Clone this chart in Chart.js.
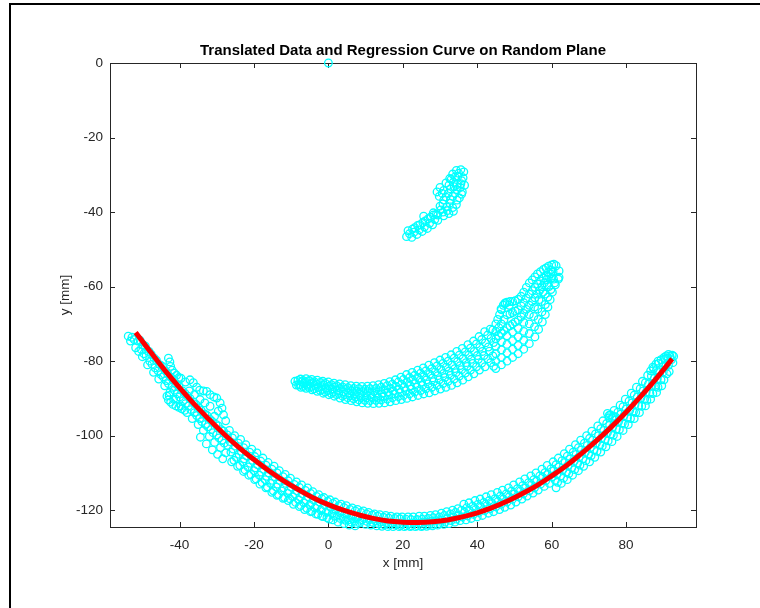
<!DOCTYPE html>
<html>
<head>
<meta charset="utf-8">
<title>Translated Data and Regression Curve on Random Plane</title>
<script src="https://cdn.jsdelivr.net/npm/chart.js@4"></script>
<style>
    body { margin: 0; background: #fff; }
    #wrap { position: relative; width: 760px; height: 608px; overflow: hidden; }
    #frame { position: absolute; left: 9px; top: 3px; width: 800px; height: 700px;
             border-left: 2px solid #000; border-top: 2px solid #000; pointer-events: none; }
</style>
</head>
<body>
<div id="wrap">
    <canvas id="chart" width="760" height="608"></canvas>
    <div id="frame"></div>
</div>
<script>
// Tick labels
const xTicks = [-40, -20, 0, 20, 40, 60, 80];
const yTicks = [-120, -100, -80, -60, -40, -20, 0];

const originPoint = [[0, 0]];

const upperBlob = [
    [21.0,-46.6],[21.4,-45.0],[22.4,-46.8],[22.6,-44.6],[23.8,-46.0],[24.0,-43.6],
    [25.2,-45.2],[25.4,-42.8],[25.6,-41.1],[26.6,-44.4],[26.8,-41.8],[28.0,-43.4],
    [28.2,-40.8],[28.2,-40.2],[29.4,-42.2],
    [21.8,-45.8],[23.0,-45.4],[24.4,-44.8],[25.8,-44.0],[27.2,-43.0],[28.6,-42.0],
    [23.2,-44.2],[24.6,-43.4],[26.0,-42.4],[27.4,-41.4],[29.0,-40.6],
    [34.4,-28.8],[35.6,-28.6],[36.4,-29.2],[33.4,-29.8],[32.6,-31.0],[34.8,-30.4],
    [36.2,-30.8],[31.6,-32.2],[33.6,-32.0],[35.6,-32.4],[36.6,-32.8],[30.0,-33.4],
    [29.2,-34.6],[31.0,-34.2],[32.8,-33.8],[34.6,-34.0],[36.0,-34.6],[29.8,-35.8],
    [31.6,-36.0],[33.4,-35.8],[35.2,-36.2],[30.8,-37.8],[32.6,-37.6],[34.4,-38.0],
    [30.2,-39.4],[32.0,-39.6],[33.6,-39.8],[31.0,-41.0],[29.4,-40.8],
    [35.0,-29.6],[34.0,-30.6],[35.8,-31.6],[33.0,-31.2],[34.6,-32.6],[32.4,-32.8],
    [33.8,-33.2],[35.4,-33.4],[30.6,-35.0],[32.2,-35.0],[34.0,-35.0],[35.8,-35.2],
    [31.0,-36.8],[32.8,-36.6],[34.6,-36.8],[30.0,-38.4],[31.8,-38.6],[33.4,-38.8],
    [30.8,-40.0],[32.4,-40.4]
];

const middleArc = [
    [-9.0,-85.4],[-8.6,-86.4],
    [-7.5,-84.8],[-7.3,-85.5],[-7.6,-86.3],[-7.4,-87.0],
    [-6.0,-84.7],[-6.2,-85.6],[-5.8,-86.5],[-6.0,-87.3],
    [-4.5,-84.9],[-4.3,-85.8],[-4.6,-86.8],[-4.4,-87.7],
    [-3.0,-85.1],[-3.2,-86.1],[-2.8,-87.1],[-3.0,-88.1],
    [-1.5,-85.4],[-1.3,-86.4],[-1.6,-87.6],[-1.4,-88.6],
    [0.0,-85.6],[0.2,-86.7],[-0.2,-87.9],[0.1,-89.0],
    [1.5,-85.9],[1.7,-87.0],[1.3,-88.3],[1.6,-89.4],
    [3.0,-86.1],[3.2,-87.3],[2.8,-88.7],[3.1,-89.9],
    [4.5,-86.3],[4.7,-87.6],[4.3,-89.0],[4.6,-90.3],
    [6.0,-86.6],[6.2,-87.9],[5.8,-89.3],[6.1,-90.6],
    [7.5,-86.7],[7.7,-88.1],[7.3,-89.6],[7.6,-90.9],
    [9.0,-86.8],[9.2,-88.2],[8.8,-89.8],[9.1,-91.2],
    [10.5,-86.7],[10.7,-88.2],[10.3,-89.8],[10.6,-91.3],
    [12.0,-86.6],[12.2,-88.2],[11.8,-89.8],[12.1,-91.4],
    [13.5,-86.3],[13.7,-87.9],[13.3,-89.7],[13.6,-91.3],
    [15.0,-86.0],[15.2,-87.7],[14.8,-89.5],[15.1,-91.2],
    [16.5,-85.5],[16.7,-87.3],[16.3,-89.1],[16.6,-90.9],
    [18.0,-85.0],[18.2,-86.8],[17.8,-88.8],[18.1,-90.6],
    [19.5,-84.3],[19.7,-86.2],[19.3,-88.4],[19.6,-90.3],
    [21.0,-83.6],[21.2,-85.7],[20.8,-87.9],[21.1,-90.0],
    [22.5,-83.0],[22.7,-85.1],[22.3,-87.5],[22.6,-89.6],
    [24.0,-82.4],[24.2,-84.6],[23.8,-87.0],[24.1,-89.2],
    [25.5,-81.8],[25.7,-84.1],[25.3,-86.5],[25.6,-88.8],
    [27.0,-81.1],[27.2,-83.5],[26.8,-86.1],[27.1,-88.5],
    [28.5,-80.4],[28.7,-82.9],[28.3,-85.5],[28.6,-88.0],
    [30.0,-79.7],[30.2,-82.2],[29.8,-85.0],[30.1,-87.5],
    [31.5,-79.0],[31.7,-81.6],[31.3,-84.4],[31.6,-87.0],
    [33.0,-78.3],[33.2,-81.0],[32.8,-83.8],[33.1,-86.5],
    [34.5,-77.4],[34.7,-80.1],[34.3,-83.1],[34.6,-85.8],
    [36.0,-76.6],[36.2,-79.3],[35.8,-82.3],[36.1,-85.1],
    [37.5,-75.6],[37.7,-78.4],[37.3,-81.4],[37.6,-84.2],
    [39.0,-74.6],[39.2,-77.4],[38.8,-80.6],[39.1,-83.4],
    [40.5,-73.4],[40.7,-76.3],[40.3,-79.5],[40.6,-82.4],
    [42.0,-72.1],[42.2,-75.1],[41.8,-78.5],[42.1,-81.5],
    [43.5,-71.4],[43.7,-73.9],[43.3,-77.3],[43.6,-80.4],
    [45.0,-70.0],[46.0,-67.5],[47.0,-65.0],[48.0,-64.2],[49.5,-64.0],[51.0,-63.4],
    [52.5,-61.5],[54.0,-59.0],[55.5,-57.4],[57.0,-56.0],[58.5,-55.0],[60.0,-54.2],
    [61.2,-54.4],[62.0,-55.8],[62.0,-57.5],
    [45.0,-72.0],[46.5,-70.0],[48.0,-67.6],[49.5,-67.0],[51.0,-66.2],[52.5,-64.3],
    [54.0,-62.0],[55.5,-60.2],[57.0,-58.5],[58.5,-57.0],[59.8,-55.5],
    [45.0,-74.0],[46.5,-72.5],[48.0,-71.0],[49.5,-70.0],[51.0,-69.0],[52.5,-67.2],
    [54.0,-65.0],[55.5,-63.0],[56.8,-61.0],[58.0,-59.0],[59.2,-57.3],[60.4,-56.0],
    [45.0,-76.0],[46.5,-74.8],[48.0,-73.2],[49.5,-72.2],[51.0,-71.2],[52.5,-69.6],
    [54.0,-67.5],[55.4,-65.5],[56.6,-63.5],[57.7,-61.5],[58.8,-59.6],[60.0,-57.6],
    [45.0,-78.0],[46.5,-77.0],[48.0,-75.5],[49.5,-74.5],[51.0,-73.5],[52.5,-72.0],
    [54.0,-70.0],[55.2,-68.0],[56.3,-66.0],[57.3,-64.0],[58.3,-62.0],[59.3,-60.0],[60.5,-58.0],
    [45.0,-80.0],[46.5,-79.0],[48.0,-77.8],[49.5,-76.8],[51.0,-75.8],[52.5,-74.4],
    [54.0,-72.6],[55.4,-70.8],[56.4,-68.8],[57.4,-66.8],[58.3,-64.8],[59.0,-62.8],
    [59.8,-60.8],[60.8,-59.0],
    [45.0,-82.0],[46.5,-81.0],[48.0,-80.0],[49.5,-79.0],[51.0,-78.0],[52.5,-76.8],
    [54.0,-75.3],[55.5,-73.5],[56.5,-71.5],[57.5,-69.5],[58.3,-67.5],[59.0,-65.5],
    [59.6,-63.5],[60.2,-61.5],[61.0,-59.5],[61.8,-58.0],
    [46.4,-66.0],[47.4,-64.6],[48.6,-65.0]
];

// in-between points of the middle band (it is denser than four rows)
const middleArcFill = [
    [-8.2,-85.2],[-8.0,-86.4],[-6.8,-85.2],[-6.6,-86.0],[-6.8,-86.8],
    [-5.2,-85.2],[-5.0,-86.2],[-5.2,-87.1],[-3.8,-85.5],[-3.6,-86.5],[-3.8,-87.4],
    [-2.2,-85.7],[-2.0,-86.8],[-2.2,-87.9],[-0.8,-86.0],[-0.6,-87.2],[-0.8,-88.3],
    [0.8,-86.3],[1.0,-87.5],[0.8,-88.7],[2.2,-86.6],[2.4,-87.8],[2.2,-89.0],
    [3.8,-86.9],[4.0,-88.2],[3.8,-89.4],[5.2,-87.1],[5.4,-88.5],[5.2,-89.8],
    [6.8,-87.3],[7.0,-88.7],[6.8,-90.1],[8.2,-87.4],[8.4,-88.9],[8.2,-90.4],
    [9.8,-87.5],[10.0,-89.0],[9.8,-90.5],[11.2,-87.4],[11.4,-89.0],[11.2,-90.6],
    [12.8,-87.3],[13.0,-88.9],[12.8,-90.5],[14.2,-87.0],[14.4,-88.7],[14.2,-90.4],
    [15.8,-86.6],[16.0,-88.4],[15.8,-90.2],[17.2,-86.2],[17.4,-88.0],[17.2,-89.8],
    [18.8,-85.6],[19.0,-87.6],[18.8,-89.5],[20.2,-84.9],[20.4,-87.0],[20.2,-89.2],
    [21.8,-84.4],[22.0,-86.6],[21.8,-88.8],[23.2,-83.8],[23.4,-86.0],[23.2,-88.3],
    [24.8,-83.2],[25.0,-85.6],[24.8,-87.9],[26.2,-82.6],[26.4,-85.0],[26.2,-87.4],
    [27.8,-82.0],[28.0,-84.5],[27.8,-87.0],[29.2,-81.3],[29.4,-83.9],[29.2,-86.5],
    [30.8,-80.6],[31.0,-83.3],[30.8,-86.0],[32.2,-80.0],[32.4,-82.7],[32.2,-85.4],
    [33.8,-79.2],[34.0,-82.0],[33.8,-84.8],[35.2,-78.4],[35.4,-81.2],[35.2,-84.0],
    [36.8,-77.5],[37.0,-80.4],[36.8,-83.2],[38.2,-76.5],[38.4,-79.5],[38.2,-82.4],
    [39.8,-75.4],[40.0,-78.5],[39.8,-81.5],[41.2,-74.2],[41.4,-77.4],[41.2,-80.5],
    [42.8,-73.0],[43.0,-76.2],[42.8,-79.4],[44.2,-71.6],[44.4,-75.0],[44.2,-78.6],[44.4,-81.4],
    [45.5,-68.8],[46.5,-66.2],[47.5,-64.4],[48.8,-64.0],[50.2,-63.8],[51.8,-62.6],
    [53.2,-60.2],[54.8,-58.2],[56.2,-56.6],[57.8,-55.4],[59.2,-54.5],[60.6,-54.0],
    [45.8,-71.0],[47.2,-68.8],[48.8,-67.3],[50.2,-66.6],[51.8,-65.2],[53.2,-63.1],
    [54.8,-61.1],[56.2,-59.3],[57.8,-57.7],[59.1,-56.2],
    [45.8,-73.2],[47.2,-71.8],[48.8,-70.5],[50.2,-69.5],[51.8,-68.1],[53.2,-66.1],
    [54.8,-64.0],[56.1,-62.0],[57.4,-60.0],[58.6,-58.1],[59.8,-56.6]
];

const lowerArc = [
    [-53.8,-73.3],[-53.2,-74.6],
    [-52.2,-74.2],[-51.8,-76.4],
    [-50.6,-74.4],[-50.4,-76.8],[-50.0,-78.8],
    [-49.2,-76.0],[-49.0,-78.6],[-48.6,-81.0],
    [-47.6,-78.2],[-47.4,-80.8],[-47.0,-83.0],
    [-46.2,-79.8],[-45.8,-82.6],[-45.6,-84.8],
    [-44.6,-81.4],[-44.4,-84.2],[-44.0,-86.6],
    [-43.2,-83.4],[-43.0,-86.0],[-42.6,-88.4],
    [-41.6,-85.0],[-41.4,-87.8],[-41.0,-90.2],
    [-40.2,-86.8],[-40.0,-89.6],[-39.6,-92.0],
    [-38.6,-88.6],[-38.4,-91.4],[-38.0,-93.8],
    [-37.2,-90.0],[-37.0,-93.0],[-36.6,-95.4],
    [-35.6,-91.6],[-35.4,-94.6],[-35.0,-97.0],
    [-34.2,-93.2],[-34.0,-96.2],[-33.6,-98.6],[-34.4,-100.4],
    [-32.6,-94.6],[-32.4,-97.6],[-32.0,-100.2],[-32.8,-102.2],
    [-31.2,-96.2],[-31.0,-99.2],[-30.6,-101.8],[-31.2,-103.8],
    [-29.6,-97.4],[-29.4,-100.6],[-29.0,-103.2],[-29.8,-105.0],
    [-28.2,-98.8],[-28.0,-102.0],[-27.6,-104.6],[-28.4,-106.2],
    [-26.6,-98.6],[-26.4,-101.6],[-26.2,-104.4],[-26.0,-107.0],
    [-25.2,-100.0],[-25.0,-102.8],[-24.8,-105.8],[-24.4,-108.2],
    [-23.6,-101.0],[-23.4,-104.2],[-23.0,-107.0],[-22.8,-109.6],
    [-22.2,-102.4],[-22.0,-105.4],[-21.6,-108.4],[-21.4,-110.6],
    [-20.6,-103.6],[-20.4,-106.6],[-20.0,-109.4],[-19.8,-111.8],
    [-19.2,-104.6],[-19.0,-107.8],[-18.6,-110.6],[-18.4,-113.0],
    [-17.6,-106.0],[-17.4,-109.0],[-17.0,-111.8],[-16.8,-114.0],
    [-16.2,-107.2],[-16.0,-110.0],[-15.6,-112.8],[-15.2,-115.2],
    [-14.6,-108.2],[-14.4,-111.0],[-14.0,-113.8],[-13.8,-116.0],
    [-13.2,-109.4],[-13.0,-112.0],[-12.6,-114.8],[-12.2,-116.8],
    [-11.6,-110.4],[-11.4,-112.8],[-11.0,-115.4],[-10.8,-117.4],
    [-10.2,-111.4],[-10.0,-113.8],[-9.6,-116.4],[-9.4,-118.4],
    [-8.6,-112.4],[-8.4,-114.8],[-8.0,-117.2],[-7.8,-119.0],
    [-7.2,-113.2],[-7.0,-115.6],[-6.6,-118.0],[-6.4,-119.8],
    [-5.6,-114.0],[-5.4,-116.4],[-5.0,-118.6],[-4.8,-120.4],
    [-4.2,-115.0],[-4.0,-117.2],[-3.6,-119.4],[-3.4,-121.0],
    [-2.6,-115.8],[-2.4,-117.8],[-2.0,-120.0],[-1.8,-121.6],
    [-1.2,-116.6],[-1.0,-118.6],[-0.6,-120.6],[-0.4,-122.0],
    [0.4,-117.2],[0.6,-119.2],[1.0,-121.0],[1.2,-122.6],
    [1.8,-117.8],[2.0,-119.8],[2.4,-121.6],[2.6,-123.2],
    [3.4,-118.4],[3.6,-120.4],[4.0,-122.2],[4.2,-123.6],
    [4.8,-118.8],[5.0,-121.0],[5.4,-122.6],[5.6,-124.0],
    [6.4,-119.4],[6.6,-121.4],[7.0,-123.0],[7.2,-124.2],
    [7.8,-119.8],[8.0,-121.8],[8.4,-123.4],
    [9.4,-120.2],[9.6,-122.2],[10.0,-123.8],
    [10.8,-120.6],[11.0,-122.6],[11.4,-124.0],
    [12.4,-121.0],[12.6,-122.8],[13.0,-124.2],
    [13.8,-121.2],[14.0,-123.2],[14.4,-124.3],
    [15.4,-121.4],[15.6,-123.4],[16.0,-124.4],
    [16.8,-121.6],[17.0,-123.4],[17.4,-124.4],
    [18.4,-121.8],[18.6,-123.6],[19.0,-124.4],
    [19.8,-121.8],[20.0,-123.6],[20.4,-124.4],
    [21.4,-121.8],[21.6,-123.6],[22.0,-124.4],
    [22.8,-121.8],[23.0,-123.4],[23.4,-124.4],
    [24.4,-121.6],[24.6,-123.4],[25.0,-124.4],
    [25.8,-121.6],[26.0,-123.2],[26.4,-124.3],
    [27.4,-121.4],[27.6,-123.0],[28.0,-124.2],
    [28.8,-121.2],[29.0,-122.8],[29.4,-124.0],
    [30.4,-120.8],[30.6,-122.6],[31.0,-123.8],
    [31.8,-120.4],[32.0,-122.2],[32.4,-123.6],
    [33.4,-120.0],[33.6,-121.8],[34.0,-123.2],
    [34.8,-119.6],[35.0,-121.4],[35.4,-122.8],
    [36.4,-118.4],[36.6,-120.6],[37.0,-122.6],
    [37.8,-118.0],[38.0,-120.2],[38.4,-122.2],
    [39.4,-117.4],[39.6,-119.8],[40.0,-121.8],
    [40.8,-117.0],[41.0,-119.2],[41.4,-121.4],
    [42.4,-116.4],[42.6,-118.8],[43.0,-120.8],
    [43.8,-115.8],[44.0,-118.2],[44.4,-120.4],
    [45.4,-115.2],[45.6,-117.6],[46.0,-119.8],
    [46.8,-114.6],[47.0,-117.0],[47.4,-119.2],
    [48.4,-114.0],[48.6,-116.4],[49.0,-118.6],
    [49.8,-113.2],[50.0,-115.6],[50.4,-117.8],
    [51.4,-112.4],[51.6,-114.8],[52.0,-117.0],
    [52.8,-111.6],[53.0,-114.0],[53.4,-116.2],
    [54.4,-110.8],[54.6,-113.2],[55.0,-115.4],
    [55.8,-110.0],[56.0,-112.2],[56.4,-114.6],
    [57.4,-109.0],[57.6,-111.2],[58.0,-113.6],
    [58.8,-108.0],[59.0,-110.4],[59.4,-112.8],
    [60.4,-107.0],[60.6,-109.4],[61.0,-112.0],[61.2,-114.0],
    [61.8,-106.0],[62.0,-108.4],[62.4,-110.8],[62.6,-112.8],
    [63.4,-104.8],[63.6,-107.2],[64.0,-109.8],[64.2,-111.8],
    [64.8,-103.6],[65.0,-106.2],[65.4,-108.6],[65.6,-110.6],
    [66.4,-102.4],[66.6,-105.0],[67.0,-107.4],[67.2,-109.4],
    [67.8,-101.2],[68.0,-103.8],[68.4,-106.2],[68.6,-108.2],
    [69.4,-100.0],[69.6,-102.6],[70.0,-105.0],[70.2,-107.0],
    [70.8,-98.8],[71.0,-101.2],[71.4,-103.8],[71.6,-105.8],
    [72.4,-97.4],[72.6,-100.0],[73.0,-102.4],[73.2,-104.4],
    [73.8,-96.0],[74.0,-98.6],[74.4,-101.0],[74.6,-103.0],
    [75.4,-94.6],[75.6,-97.2],[76.0,-99.6],[76.2,-101.6],
    [76.8,-93.2],[77.0,-95.8],[77.4,-98.2],[77.6,-100.2],
    [78.4,-91.8],[78.6,-94.2],[79.0,-96.6],[79.2,-98.6],
    [79.8,-90.2],[80.0,-92.8],[80.4,-95.2],[80.6,-97.0],
    [81.4,-88.6],[81.6,-91.2],[82.0,-93.6],[82.2,-95.4],
    [82.8,-87.0],[83.0,-89.6],[83.4,-92.0],[83.6,-93.8],
    [84.4,-85.4],[84.6,-88.0],[85.0,-90.2],[85.2,-92.0],
    [85.8,-83.8],[86.0,-86.2],[86.4,-88.6],[86.6,-90.2],
    [87.4,-82.0],[87.6,-84.6],[88.0,-86.8],[88.2,-88.4],
    [88.8,-80.6],[89.0,-83.0],[89.4,-85.0],[89.6,-86.6],
    [90.4,-79.4],[90.6,-81.4],[91.0,-83.4],
    [91.8,-78.6],[92.2,-79.6],[92.6,-80.4],[92.8,-78.7],
    [75.0,-94.0],[75.8,-94.4],[76.6,-94.8],[77.2,-95.0],[75.4,-95.2],
    [86.6,-82.6],[87.2,-81.6],[88.0,-80.8],[88.6,-80.0],[89.4,-79.6],
    [90.2,-79.0],[90.8,-78.6],[91.4,-78.2],[92.4,-78.4]
];

// in-between points of the lower band
const lowerArcFill = [
    [-52.8,-73.6],[-51.2,-74.6],[-51.0,-77.4],[-49.8,-75.6],[-49.6,-78.0],[-48.2,-77.4],
    [-48.0,-80.0],[-46.8,-79.2],[-46.6,-81.8],[-45.2,-81.0],[-45.0,-83.6],[-43.8,-82.6],
    [-43.6,-85.2],[-42.2,-84.4],[-42.0,-87.0],[-40.8,-86.2],[-40.6,-88.8],[-39.2,-88.0],
    [-39.0,-90.6],[-37.8,-89.4],[-37.6,-92.0],[-36.2,-91.0],[-36.0,-93.8],[-34.8,-92.6],
    [-34.6,-95.4],[-33.2,-94.2],[-33.0,-97.0],[-31.8,-95.6],[-31.6,-98.4],[-30.2,-97.0],
    [-30.0,-99.8],[-28.8,-98.4],[-28.6,-101.2],[-27.2,-99.8],[-27.0,-102.6],
    [-25.8,-100.6],[-25.6,-103.6],[-25.4,-106.6],[-24.2,-102.0],[-24.0,-105.0],[-23.8,-108.0],
    [-22.8,-103.2],[-22.6,-106.2],[-22.4,-109.2],[-21.2,-104.4],[-21.0,-107.4],[-20.8,-110.4],
    [-19.8,-105.6],[-19.6,-108.6],[-19.4,-111.6],[-18.2,-106.8],[-18.0,-109.8],[-17.8,-112.6],
    [-16.8,-107.9],[-16.6,-110.9],[-16.4,-113.8],[-15.2,-109.0],[-15.0,-112.0],[-14.8,-114.8],
    [-13.8,-110.0],[-13.6,-113.0],[-13.4,-115.8],[-12.2,-111.0],[-12.0,-114.0],[-11.8,-116.6],
    [-10.8,-112.1],[-10.6,-114.7],[-10.4,-116.9],[-9.2,-113.1],[-9.0,-115.7],[-8.8,-117.9],
    [-7.8,-113.9],[-7.6,-116.5],[-7.4,-118.7],[-6.2,-114.7],[-6.0,-117.3],[-5.8,-119.5],
    [-4.8,-115.5],[-4.6,-118.1],[-4.4,-120.3],[-3.2,-116.3],[-3.0,-118.9],[-2.8,-121.1],
    [-1.8,-116.9],[-1.6,-119.5],[-1.4,-121.7],[-0.2,-117.6],[0.0,-120.2],[0.2,-122.4],
    [1.2,-118.2],[1.4,-120.0],[1.6,-121.6],[2.8,-118.8],[3.0,-120.6],[3.2,-122.2],
    [4.2,-119.3],[4.4,-121.1],[4.6,-122.7],[5.8,-119.8],[6.0,-121.6],[6.2,-123.2],
    [7.2,-120.2],[7.4,-122.0],[7.6,-123.6],[8.8,-120.6],[9.0,-122.6],
    [10.2,-121.0],[10.4,-123.0],[11.8,-121.3],[12.0,-123.3],[13.2,-121.6],[13.4,-123.6],
    [14.8,-121.9],[15.0,-123.9],[16.2,-122.1],[16.4,-124.0],[17.8,-122.2],[18.0,-124.0],
    [19.2,-122.3],[19.4,-124.1],[20.8,-122.4],[21.0,-124.2],[22.2,-122.5],[22.4,-124.2],
    [23.8,-122.5],[24.0,-124.2],[25.2,-122.4],[25.4,-124.2],[26.8,-122.2],[27.0,-124.0],
    [28.2,-122.0],[28.4,-123.8],[29.8,-121.8],[30.0,-123.6],[31.2,-121.4],[31.4,-123.2],
    [32.8,-121.0],[33.0,-122.8],[34.2,-120.6],[34.4,-122.4],
    [35.8,-120.0],[36.0,-121.8],[37.2,-119.3],[37.4,-121.5],[38.8,-118.9],[39.0,-121.1],
    [40.2,-118.4],[40.4,-120.6],[41.8,-117.9],[42.0,-120.1],[43.2,-117.4],[43.4,-119.6],
    [44.8,-116.9],[45.0,-119.1],[46.2,-116.2],[46.4,-118.4],[47.8,-115.6],[48.0,-117.8],
    [49.2,-114.9],[49.4,-117.1],[50.8,-114.2],[51.0,-116.4],[52.2,-113.4],[52.4,-115.6],
    [53.8,-112.6],[54.0,-114.8],[55.2,-111.8],[55.4,-114.0],[56.8,-110.8],[57.0,-113.0],
    [58.2,-109.9],[58.4,-112.1],[59.8,-108.9],[60.0,-111.1],
    [61.2,-107.8],[61.4,-110.3],[61.6,-112.5],[62.8,-106.7],[63.0,-109.2],[63.2,-111.4],
    [64.2,-105.5],[64.4,-108.0],[64.6,-110.2],[65.8,-104.4],[66.0,-106.9],[66.2,-109.1],
    [67.2,-103.2],[67.4,-105.7],[67.6,-107.9],[68.8,-102.0],[69.0,-104.5],[69.2,-106.7],
    [70.2,-100.7],[70.4,-103.2],[70.6,-105.4],[71.8,-99.5],[72.0,-102.0],[72.2,-104.2],
    [73.2,-98.1],[73.4,-100.6],[73.6,-102.8],[74.8,-96.7],[75.0,-99.2],[75.2,-101.4],
    [76.2,-95.2],[76.4,-97.7],[76.6,-99.9],[77.8,-93.7],[78.0,-96.2],[78.2,-98.4],
    [79.2,-92.2],[79.4,-94.7],[79.6,-96.9],[80.8,-90.7],[81.0,-93.2],[81.2,-95.4],
    [82.2,-89.1],[82.4,-91.6],[82.6,-93.8],[83.8,-87.4],[84.0,-89.9],[84.2,-92.1],
    [85.2,-85.8],[85.4,-88.3],[85.6,-90.5],[86.8,-84.0],[87.0,-86.5],[87.2,-88.7],
    [88.2,-82.3],[88.4,-84.8],[88.6,-87.0],[89.8,-80.4],[90.0,-82.9],[90.2,-85.0],
    [91.2,-79.2],[91.4,-81.1],[91.6,-82.8]
];

// second strand above the curve on the left side
const leftStrand = [
    [-43.0,-79.2],[-42.6,-80.2],[-42.4,-81.4],[-42.0,-82.4],[-41.4,-83.2],[-40.8,-83.8],
    [-40.2,-84.4],
    [-43.4,-89.4],[-43.0,-90.4],[-42.4,-91.0],[-41.8,-91.6],[-41.0,-92.0],[-40.2,-92.4],
    [-39.4,-92.8],[-38.6,-93.2],[-42.8,-89.2],[-41.6,-90.2],
    [-39.6,-84.6],[-38.4,-85.6],[-37.2,-85.0],[-36.3,-85.8],[-35.4,-87.0],[-34.6,-87.8],
    [-33.6,-88.0],[-32.7,-88.1],[-31.8,-89.0],[-30.8,-89.6],[-30.0,-89.9],[-29.1,-91.2],
    [-28.6,-92.6],[-29.6,-93.4],[-31.8,-92.1],[-33.2,-91.2],[-34.5,-90.3],[-36.0,-89.0],
    [-37.4,-88.0],[-28.2,-94.4],[-27.6,-96.0],[-30.6,-94.8]
];

// regression curve
const fitCurve = [
    [-51.8,-72.3],[-48,-77.3],[-44,-82.4],[-40,-87.1],[-36,-91.6],[-32,-95.7],
    [-28,-99.6],[-24,-103.2],[-20,-106.4],[-16,-109.4],[-12,-112.1],[-8,-114.5],
    [-4,-116.7],[0,-118.5],[4,-120.0],[8,-121.2],[12,-122.2],[16,-122.9],
    [20,-123.2],[24,-123.3],[28,-123.1],[32,-122.6],[36,-121.8],[40,-120.7],
    [44,-119.3],[48,-117.6],[52,-115.6],[56,-113.4],[60,-110.8],[64,-108.0],
    [68,-104.8],[72,-101.4],[76,-97.7],[80,-93.7],[84,-89.4],[88,-84.8],[92.4,-79.4]
];

const axisColor = '#262626';
const fontFamily = '"Liberation Sans", Arial, Helvetica, sans-serif';

const toXY = arr => arr.map(p => ({ x: p[0], y: p[1] }));

// draws the axes box and inward ticks (matlab style)
const boxPlugin = {
    id: 'axesBox',
    beforeDatasetsDraw(chart) {
        const { ctx, chartArea: a, scales } = chart;
        const len = 5;
        ctx.save();
        ctx.strokeStyle = axisColor;
        ctx.lineWidth = 1;
        ctx.strokeRect(Math.round(a.left) + 0.5, Math.round(a.top) + 0.5,
                       Math.round(a.width), Math.round(a.height));
        ctx.beginPath();
        scales.x.ticks.forEach(t => {
            const px = Math.round(scales.x.getPixelForValue(t.value)) + 0.5;
            ctx.moveTo(px, a.bottom); ctx.lineTo(px, a.bottom - len);
            ctx.moveTo(px, a.top); ctx.lineTo(px, a.top + len);
        });
        scales.y.ticks.forEach(t => {
            const py = Math.round(scales.y.getPixelForValue(t.value)) + 0.5;
            ctx.moveTo(a.left, py); ctx.lineTo(a.left + len, py);
            ctx.moveTo(a.right, py); ctx.lineTo(a.right - len, py);
        });
        ctx.stroke();
        ctx.restore();
    }
};

const scatterPoints = [...originPoint, ...upperBlob, ...middleArc, ...middleArcFill,
                       ...lowerArc, ...lowerArcFill, ...leftStrand];

new Chart(document.getElementById('chart'), {
    type: 'scatter',
    data: {
        datasets: [{
            label: 'Regression',
            data: toXY(fitCurve),
            showLine: true,
            borderColor: '#ff0000',
            borderWidth: 5,
            pointRadius: 0,
            tension: 0.4,
            order: 0
        }, {
            label: 'Translated data',
            data: toXY(scatterPoints),
            pointStyle: 'circle',
            pointRadius: 3.8,
            borderWidth: 1.3,
            borderColor: '#00ffff',
            backgroundColor: 'rgba(0,0,0,0)',
            clip: false,
            order: 1
        }]
    },
    options: {
        responsive: false,
        animation: false,
        devicePixelRatio: 1,
        layout: { padding: { left: 0, top: 0, right: 64, bottom: 0 } },
        plugins: {
            legend: { display: false },
            tooltip: { enabled: false },
            title: {
                display: true,
                text: 'Translated Data and Regression Curve on Random Plane',
                fullSize: false,
                color: '#000',
                font: { family: fontFamily, size: 15, weight: 'bold' },
                padding: { top: 42, bottom: 3 }
            }
        },
        scales: {
            x: {
                type: 'linear',
                min: -58.7,
                max: 98.8,
                afterBuildTicks: s => { s.ticks = xTicks.map(v => ({ value: v })); },
                afterFit: s => { s.height = 81; },
                grid: { display: false, drawTicks: false },
                border: { display: false },
                ticks: { padding: 10, color: axisColor, font: { family: fontFamily, size: 13.5 } },
                title: {
                    display: true,
                    text: 'x [mm]',
                    color: axisColor,
                    font: { family: fontFamily, size: 13.5 },
                    padding: { top: 0, bottom: 37 }
                }
            },
            y: {
                type: 'linear',
                min: -124.5,
                max: 0,
                afterBuildTicks: s => { s.ticks = yTicks.map(v => ({ value: v })); },
                afterFit: s => { s.width = 110; },
                grid: { display: false, drawTicks: false },
                border: { display: false },
                ticks: { padding: 7, color: axisColor, font: { family: fontFamily, size: 13.5 } },
                title: {
                    display: true,
                    text: 'y [mm]',
                    color: axisColor,
                    font: { family: fontFamily, size: 13.5 },
                    padding: { top: 57, bottom: 0 }
                }
            }
        }
    },
    plugins: [boxPlugin]
});
</script>
</body>
</html>
